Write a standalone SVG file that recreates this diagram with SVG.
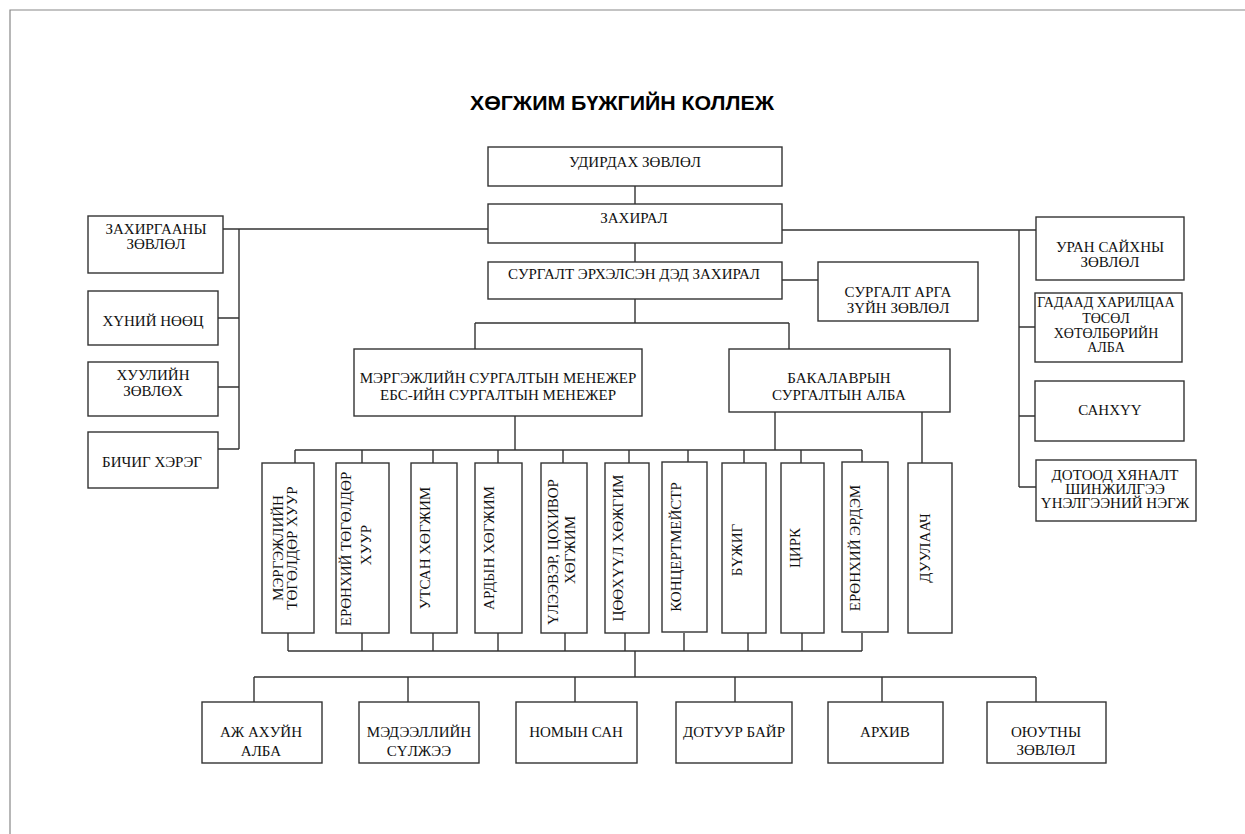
<svg xmlns="http://www.w3.org/2000/svg" width="1245" height="834" viewBox="0 0 1245 834">
<style>
.b{fill:#fff;stroke:#333;stroke-width:1.4}
.c{fill:none;stroke:#333;stroke-width:1.4}
.t{font-family:"Liberation Serif","Times New Roman","DejaVu Serif",serif;font-size:15px;fill:#111;text-anchor:middle}
.s{font-size:14px}
.title{font-family:"Liberation Sans",Arial,sans-serif;font-size:20px;font-weight:bold;fill:#000;text-anchor:middle}
</style>
<rect width="1245" height="834" fill="#fff"/>
<path d="M10 834V10H1245" fill="none" stroke="#888" stroke-width="1.2"/>
<text class="title" x="622" y="110" textLength="304" lengthAdjust="spacingAndGlyphs">ХӨГЖИМ БҮЖГИЙН КОЛЛЕЖ</text>
<g id="connectors" class="c">
<path d="M635 186V204M635 243V262M635 299V323M475 323H789M475 323V349M789 323V349"/>
<path d="M223 229H488M239 229V449M218 318H239M218 387H239M218 449H239"/>
<path d="M782 230H1036M1019 230V487M1019 327H1035M1019 416H1035M1019 487H1036"/>
<path d="M782 280H818"/>
<path d="M515 416V450M775 412V450M922 412V463M295 450H862"/>
<path d="M295 450V463M362 450V463M433 450V463M498 450V463M563 450V463M629 450V463M688 450V463M744 450V463M801 450V463M862 450V463"/>
<path d="M288 633V651M362 633V651M433 633V651M498 633V651M565 633V651M625 633V651M684 633V651M748 633V651M802 633V651M862 633V651M288 651H862"/>
<path d="M635 651V677M254 677H1036M254 677V702M408 677V702M575 677V702M735 677V702M882 677V702M1036 677V702"/>
</g>
<g id="n-udirdah"><rect class="b" x="488" y="147" width="294" height="39"/><text class="t" x="635" y="167">УДИРДАХ ЗӨВЛӨЛ</text></g>
<g id="n-zahiral"><rect class="b" x="488" y="204" width="294" height="39"/><text class="t" x="634" y="223">ЗАХИРАЛ</text></g>
<g id="n-surgalt-ded"><rect class="b" x="488" y="262" width="294" height="37"/><text class="t" x="634" y="279">СУРГАЛТ ЭРХЭЛСЭН ДЭД ЗАХИРАЛ</text></g>
<g id="n-surgalt-arga"><rect class="b" x="818" y="262" width="160" height="59"/><text class="t" x="898" y="297">СУРГАЛТ АРГА</text><text class="t" x="898" y="313">ЗҮЙН  ЗӨВЛӨЛ</text></g>
<g id="n-zahirgaa"><rect class="b" x="88" y="216" width="135" height="57"/><text class="t" x="156" y="234">ЗАХИРГААНЫ</text><text class="t" x="156" y="249">ЗӨВЛӨЛ</text></g>
<g id="n-hunii"><rect class="b" x="88" y="291" width="130" height="54"/><text class="t" x="153" y="326">ХҮНИЙ НӨӨЦ</text></g>
<g id="n-huuli"><rect class="b" x="88" y="362" width="130" height="54"/><text class="t" x="153" y="380">ХУУЛИЙН</text><text class="t" x="153" y="396">ЗӨВЛӨХ</text></g>
<g id="n-bichig"><rect class="b" x="88" y="432" width="130" height="56"/><text class="t" x="152" y="467">БИЧИГ ХЭРЭГ</text></g>
<g id="n-uran"><rect class="b" x="1036" y="217" width="148" height="63"/><text class="t" x="1110" y="252">УРАН САЙХНЫ</text><text class="t" x="1110" y="267">ЗӨВЛӨЛ</text></g>
<g id="n-gadaad"><rect class="b" x="1035" y="293" width="147" height="69"/><text class="t s" x="1106" y="307">ГАДААД ХАРИЛЦАА</text><text class="t s" x="1106" y="323">ТӨСӨЛ</text><text class="t s" x="1106" y="338">ХӨТӨЛБӨРИЙН</text><text class="t s" x="1106" y="352">АЛБА</text></g>
<g id="n-sanhuu"><rect class="b" x="1035" y="381" width="149" height="60"/><text class="t" x="1110" y="415">САНХҮҮ</text></g>
<g id="n-dotood"><rect class="b" x="1036" y="460" width="160" height="61"/><text class="t" x="1115" y="480">ДОТООД ХЯНАЛТ</text><text class="t" x="1115" y="494">ШИНЖИЛГЭЭ</text><text class="t" x="1115" y="508">ҮНЭЛГЭЭНИЙ НЭГЖ</text></g>
<g id="n-mergejil"><rect class="b" x="354" y="349" width="288" height="67"/><text class="t" x="498" y="383">МЭРГЭЖЛИЙН СУРГАЛТЫН МЕНЕЖЕР</text><text class="t" x="498" y="400">ЕБС-ИЙН СУРГАЛТЫН МЕНЕЖЕР</text></g>
<g id="n-bakalavr"><rect class="b" x="729" y="349" width="221" height="63"/><text class="t" x="839" y="383">БАКАЛАВРЫН</text><text class="t" x="839" y="400">СУРГАЛТЫН АЛБА</text></g>
<g id="n-v1"><rect class="b" x="262" y="463" width="52" height="170"/><text class="t" transform="translate(283 548) rotate(-90)">МЭРГЭЖЛИЙН</text><text class="t" transform="translate(297 548) rotate(-90)">ТӨГӨЛДӨР ХУУР</text></g>
<g id="n-v2"><rect class="b" x="336" y="463" width="53" height="170"/><text class="t" transform="translate(351 549) rotate(-90)">ЕРӨНХИЙ  ТӨГӨЛДӨР</text><text class="t" transform="translate(371 545) rotate(-90)">ХУУР</text></g>
<g id="n-v3"><rect class="b" x="411" y="463" width="46" height="170"/><text class="t" transform="translate(430 548) rotate(-90)">УТСАН ХӨГЖИМ</text></g>
<g id="n-v4"><rect class="b" x="475" y="463" width="47" height="170"/><text class="t" transform="translate(494 548) rotate(-90)">АРДЫН ХӨГЖИМ</text></g>
<g id="n-v5"><rect class="b" x="541" y="463" width="46" height="170"/><text class="t" transform="translate(558 552) rotate(-90)">ҮЛЭЭВЭР, ЦОХИВОР</text><text class="t" transform="translate(575 550) rotate(-90)">ХӨГЖИМ</text></g>
<g id="n-v6"><rect class="b" x="605" y="463" width="44" height="170"/><text class="t" transform="translate(623 548) rotate(-90)">ЦӨӨХҮҮЛ ХӨЖГИМ</text></g>
<g id="n-v7"><rect class="b" x="662" y="462" width="45" height="170"/><text class="t" transform="translate(681 547) rotate(-90)">КОНЦЕРТМЕЙСТР</text></g>
<g id="n-v8"><rect class="b" x="722" y="463" width="44" height="170"/><text class="t" transform="translate(742 550) rotate(-90)">БҮЖИГ</text></g>
<g id="n-v9"><rect class="b" x="781" y="463" width="43" height="170"/><text class="t" transform="translate(800 548) rotate(-90)">ЦИРК</text></g>
<g id="n-v10"><rect class="b" x="842" y="462" width="46" height="170"/><text class="t" transform="translate(860 548) rotate(-90)">ЕРӨНХИЙ ЭРДЭМ</text></g>
<g id="n-duulaach"><rect class="b" x="908" y="463" width="44" height="170"/><text class="t" transform="translate(930 548) rotate(-90)">ДУУЛААЧ</text></g>
<g id="n-aj"><rect class="b" x="202" y="702" width="120" height="61"/><text class="t" x="261" y="737">АЖ АХУЙН</text><text class="t" x="261" y="756">АЛБА</text></g>
<g id="n-medeel"><rect class="b" x="359" y="702" width="120" height="61"/><text class="t" x="419" y="737">МЭДЭЭЛЛИЙН</text><text class="t" x="419" y="756">СҮЛЖЭЭ</text></g>
<g id="n-nom"><rect class="b" x="516" y="702" width="121" height="61"/><text class="t" x="576" y="737">НОМЫН САН</text></g>
<g id="n-dotuur"><rect class="b" x="676" y="702" width="116" height="61"/><text class="t" x="734" y="737">ДОТУУР БАЙР</text></g>
<g id="n-arhiv"><rect class="b" x="828" y="702" width="115" height="61"/><text class="t" x="885" y="737">АРХИВ</text></g>
<g id="n-ouutny"><rect class="b" x="987" y="702" width="119" height="61"/><text class="t" x="1046" y="737">ОЮУТНЫ</text><text class="t" x="1046" y="755">ЗӨВЛӨЛ</text></g>
</svg>
